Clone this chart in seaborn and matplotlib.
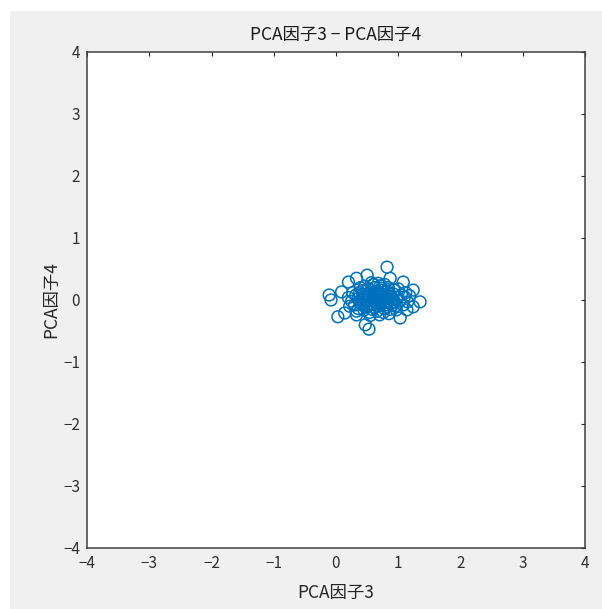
import matplotlib
matplotlib.use("Agg")
import matplotlib.pyplot as plt
import seaborn as sns
import pandas as pd
from matplotlib.patches import Rectangle

# ---- data ----
core_x = [0.45, 0.50, 0.55, 0.60, 0.65, 0.70, 0.75, 0.80, 0.85, 0.90,
          0.40, 0.42, 0.48, 0.52, 0.58, 0.62, 0.68, 0.72, 0.78, 0.82,
          0.35, 0.38, 0.44, 0.50, 0.56, 0.63, 0.67, 0.73, 0.77, 0.88,
          0.92, 0.95, 0.98, 1.02, 1.05, 0.30, 0.32, 0.36, 0.46, 0.54,
          0.60, 0.66, 0.71, 0.76, 0.84, 0.87, 0.93, 0.97, 1.00, 1.08,
          0.41, 0.47, 0.53, 0.57, 0.61, 0.64, 0.69, 0.74, 0.79, 0.83,
          0.86, 0.91, 0.43, 0.49, 0.51, 0.59, 0.66, 0.71, 0.81, 0.89,
          0.27, 0.25, 0.33, 0.39, 0.45, 0.62, 0.73, 0.80, 0.94, 1.10,
          1.12, 1.15, 1.18, 0.20, 0.22, 0.57, 0.68, 0.78, 0.55, 0.85]
core_y = [0.05, 0.10, 0.00, 0.08, -0.05, 0.12, 0.02, -0.08, 0.06, 0.00,
          -0.05, 0.15, -0.12, 0.18, -0.15, 0.20, -0.10, 0.16, -0.14, 0.14,
          0.02, 0.12, -0.08, -0.02, 0.12, 0.03, 0.06, -0.03, 0.09, -0.05,
          0.10, -0.10, 0.04, -0.02, 0.08, -0.08, 0.08, -0.14, 0.22, -0.20,
          0.25, -0.18, 0.23, -0.20, 0.20, -0.15, 0.16, -0.16, 0.18, -0.08,
          0.00, 0.04, 0.06, -0.06, -0.02, 0.14, 0.00, 0.07, 0.03, -0.02,
          0.11, -0.08, 0.09, 0.16, -0.09, 0.03, 0.10, -0.06, 0.09, 0.05,
          0.12, -0.02, -0.18, 0.20, -0.16, -0.12, 0.19, -0.11, -0.03, 0.05,
          0.12, -0.03, 0.07, 0.04, -0.10, 0.28, 0.27, 0.25, -0.25, -0.22]
outer_x = [0.82, -0.11, -0.08, 0.47, 0.53, 1.35, 1.24, 1.03, 1.14, 0.14,
           0.03, 0.09, 0.20, 1.08, 0.87, 0.50, 0.33, 0.70, 0.33, 1.24]
outer_y = [0.53, 0.08, 0.00, -0.40, -0.47, -0.03, 0.16, -0.29, -0.16, -0.21,
           -0.27, 0.13, 0.29, 0.29, 0.35, 0.40, 0.35, -0.24, -0.24, -0.11]

title = "PCA因子3 \u2212 PCA因子4"
xlabel = "PCA因子3"
ylabel = "PCA因子4"
ticks = [-4, -3, -2, -1, 0, 1, 2, 3, 4]

df = pd.DataFrame({"x": core_x + outer_x, "y": core_y + outer_y})

sns.set_theme(style="white")
plt.rcParams["font.family"] = ["Noto Sans CJK JP", "DejaVu Sans"]

W, H = 602, 609
fig = plt.figure(figsize=(W / 100, H / 100), dpi=100, facecolor="white")
fig.patches.append(Rectangle((10 / W, 0), 1, (H - 11) / H, transform=fig.transFigure,
                             facecolor="#f0f0f0", edgecolor="none", zorder=-10))
ax = fig.add_axes([87 / W, (H - 548) / H, (585 - 87) / W, (548 - 52) / H])
ax.set_facecolor("white")

sns.scatterplot(data=df, x="x", y="y", ax=ax, marker="o", s=72,
                facecolors="none", edgecolors="#0072BD", linewidth=1.1, legend=False)

ax.set_xlim(-4, 4)
ax.set_ylim(-4, 4)
ax.set_xticks(ticks)
ax.set_yticks(ticks)
ax.set_xticklabels([str(t).replace("-", "\u2212") for t in ticks])
ax.set_yticklabels([str(t).replace("-", "\u2212") for t in ticks])
ax.tick_params(direction="in", length=3, width=0.8, color="#262626",
               top=True, right=True, labelsize=11, labelcolor="#303030", pad=5)
for sp in ax.spines.values():
    sp.set_color("#404040")
    sp.set_linewidth(1.1)

ax.set_title(title, fontsize=12.5, color="#1a1a1a", pad=9)
ax.set_xlabel(xlabel, fontsize=12.5, color="#262626", labelpad=9)
ax.set_ylabel(ylabel, fontsize=12.5, color="#262626", labelpad=2)

fig.savefig("out.png", dpi=100, facecolor=fig.get_facecolor())
